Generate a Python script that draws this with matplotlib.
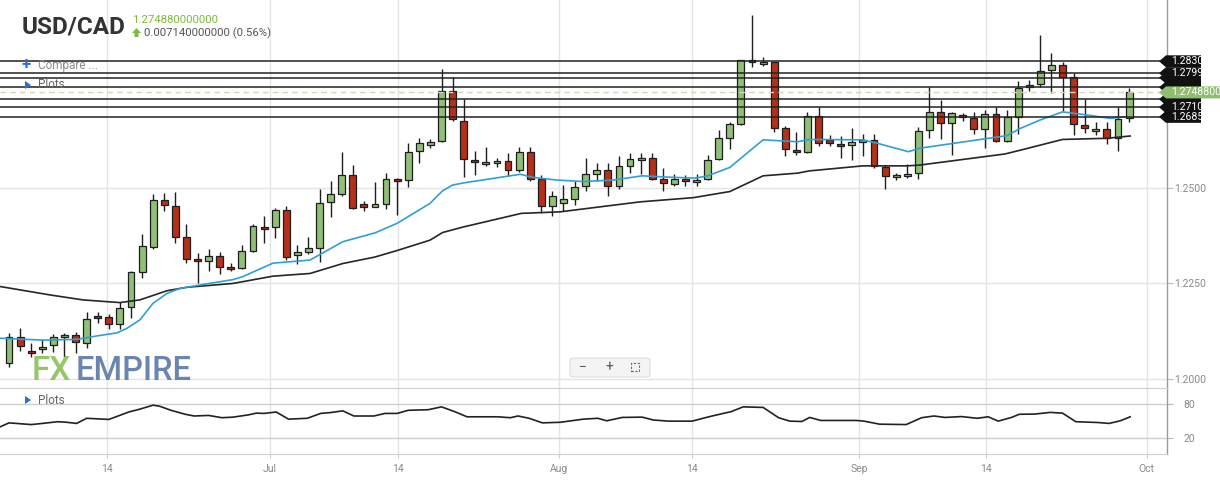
import matplotlib
matplotlib.use('Agg')
import matplotlib.pyplot as plt
import matplotlib.transforms as mtransforms
from matplotlib.patches import Polygon, FancyBboxPatch, Rectangle
import numpy as np

plt.rcParams['font.family'] = ['Roboto', 'DejaVu Sans']

# ---------------- data ----------------
opens = [1.2043, 1.2109, 1.2074, 1.2078, 1.2089, 1.2110, 1.2115, 1.2095, 1.2165, 1.2162,
         1.2143, 1.2188, 1.2279, 1.2346, 1.2467, 1.2451, 1.2371, 1.2314, 1.2308, 1.2322,
         1.2294, 1.2290, 1.2336, 1.2397, 1.2397, 1.2441, 1.2324, 1.2333, 1.2342, 1.2462,
         1.2484, 1.2532, 1.2457, 1.2450, 1.2458, 1.2523, 1.2519, 1.2596, 1.2611, 1.2622,
         1.2752, 1.2675, 1.2572, 1.2561, 1.2564, 1.2569, 1.2545, 1.2592, 1.2522, 1.2451,
         1.2459, 1.2470, 1.2504, 1.2535, 1.2545, 1.2504, 1.2556, 1.2572, 1.2577, 1.2522,
         1.2509, 1.2522, 1.2514, 1.2522, 1.2574, 1.2629, 1.2666, 1.2833, 1.2822, 1.2827,
         1.2655, 1.2598, 1.2592, 1.2686, 1.2624, 1.2613, 1.2611, 1.2619, 1.2624, 1.2553,
         1.2527, 1.2530, 1.2538, 1.2650, 1.2697, 1.2668, 1.2689, 1.2681, 1.2652, 1.2692,
         1.2621, 1.2684, 1.2762, 1.2770, 1.2807, 1.2820, 1.2788, 1.2663, 1.2647, 1.2652,
         1.2629, 1.2681]
highs = [1.2120, 1.2133, 1.2094, 1.2105, 1.2118, 1.2121, 1.2124, 1.2176, 1.2176, 1.2170,
         1.2202, 1.2283, 1.2379, 1.2484, 1.2485, 1.2488, 1.2404, 1.2329, 1.2341, 1.2331,
         1.2304, 1.2350, 1.2404, 1.2426, 1.2446, 1.2452, 1.2350, 1.2372, 1.2496, 1.2518,
         1.2592, 1.2558, 1.2466, 1.2514, 1.2539, 1.2525, 1.2616, 1.2629, 1.2626, 1.2810,
         1.2788, 1.2731, 1.2596, 1.2607, 1.2577, 1.2591, 1.2605, 1.2605, 1.2533, 1.2492,
         1.2506, 1.2517, 1.2578, 1.2564, 1.2564, 1.2582, 1.2590, 1.2590, 1.2590, 1.2551,
         1.2535, 1.2533, 1.2535, 1.2585, 1.2650, 1.2671, 1.2834, 1.2951, 1.2840, 1.2828,
         1.2660, 1.2645, 1.2697, 1.2711, 1.2637, 1.2634, 1.2656, 1.2639, 1.2639, 1.2558,
         1.2538, 1.2561, 1.2658, 1.2762, 1.2728, 1.2697, 1.2694, 1.2697, 1.2702, 1.2710,
         1.2702, 1.2778, 1.2780, 1.2898, 1.2851, 1.2827, 1.2799, 1.2731, 1.2671, 1.2671,
         1.2710, 1.2760]
lows = [1.2031, 1.2074, 1.2059, 1.2068, 1.2072, 1.2059, 1.2069, 1.2081, 1.2146, 1.2130,
        1.2130, 1.2159, 1.2263, 1.2339, 1.2440, 1.2355, 1.2303, 1.2252, 1.2283, 1.2275,
        1.2283, 1.2288, 1.2333, 1.2356, 1.2368, 1.2311, 1.2301, 1.2327, 1.2307, 1.2424,
        1.2479, 1.2444, 1.2440, 1.2449, 1.2444, 1.2429, 1.2503, 1.2564, 1.2604, 1.2620,
        1.2675, 1.2529, 1.2533, 1.2557, 1.2553, 1.2531, 1.2542, 1.2518, 1.2433, 1.2427,
        1.2440, 1.2455, 1.2491, 1.2517, 1.2478, 1.2496, 1.2539, 1.2535, 1.2520, 1.2491,
        1.2504, 1.2504, 1.2504, 1.2520, 1.2573, 1.2600, 1.2665, 1.2814, 1.2819, 1.2645,
        1.2583, 1.2585, 1.2590, 1.2608, 1.2608, 1.2577, 1.2572, 1.2583, 1.2551, 1.2496,
        1.2519, 1.2525, 1.2522, 1.2629, 1.2626, 1.2585, 1.2675, 1.2639, 1.2603, 1.2619,
        1.2620, 1.2639, 1.2752, 1.2764, 1.2746, 1.2699, 1.2637, 1.2642, 1.2637, 1.2613,
        1.2595, 1.2671]
closes = [1.2109, 1.2087, 1.2069, 1.2085, 1.2111, 1.2115, 1.2096, 1.2156, 1.2159, 1.2143,
          1.2185, 1.2279, 1.2347, 1.2467, 1.2454, 1.2371, 1.2313, 1.2308, 1.2322, 1.2292,
          1.2289, 1.2336, 1.2400, 1.2391, 1.2441, 1.2318, 1.2331, 1.2342, 1.2459, 1.2483,
          1.2532, 1.2446, 1.2450, 1.2457, 1.2523, 1.2517, 1.2592, 1.2616, 1.2619, 1.2752,
          1.2679, 1.2574, 1.2566, 1.2566, 1.2569, 1.2545, 1.2592, 1.2522, 1.2451, 1.2478,
          1.2470, 1.2501, 1.2535, 1.2545, 1.2504, 1.2556, 1.2574, 1.2578, 1.2523, 1.2511,
          1.2522, 1.2517, 1.2519, 1.2572, 1.2629, 1.2666, 1.2833, 1.2827, 1.2827, 1.2655,
          1.2600, 1.2592, 1.2686, 1.2616, 1.2616, 1.2608, 1.2619, 1.2624, 1.2556, 1.2530,
          1.2532, 1.2536, 1.2647, 1.2697, 1.2668, 1.2694, 1.2684, 1.2652, 1.2692, 1.2621,
          1.2685, 1.2761, 1.2767, 1.2804, 1.2820, 1.2788, 1.2666, 1.2655, 1.2652, 1.2629,
          1.2679, 1.27488]

# moving averages (read at points along the lines, x in bar units)
ma_fast_x = [-0.81, 3.07, 6.13, 7.94, 9.74, 10.64, 11.81, 12.98, 14.25, 15.42, 17.22, 20.2,
             21.1, 23.8, 27.14, 30.1, 33.0, 35.0, 37.96, 39.1, 40.0, 41.1, 46.1, 47.25, 49.4,
             51.8, 54.5, 57.1, 59.9, 61.9, 63.0, 65.0, 68.0, 71.1, 72.2, 77.0, 78.3, 81.1,
             82.1, 90.0, 91.2, 93.0, 95.0, 97.2, 99.3, 100.6]
ma_fast_y = [1.2107, 1.2102, 1.2104, 1.2113, 1.2121, 1.2133, 1.2155, 1.2198, 1.2224, 1.2237,
             1.2246, 1.2260, 1.2268, 1.2303, 1.2311, 1.2359, 1.2382, 1.2407, 1.2459, 1.2492,
             1.2507, 1.2513, 1.2535, 1.2527, 1.2520, 1.2516, 1.2520, 1.2531, 1.2527, 1.2525,
             1.2531, 1.2553, 1.2625, 1.2620, 1.2626, 1.2625, 1.2616, 1.2594, 1.2603, 1.2636,
             1.2655, 1.2677, 1.2698, 1.2690, 1.2681, 1.2685]
ma_slow_x = [-0.81, 3.7, 6.67, 10.0, 11.8, 14.25, 16.05, 20.2, 23.8, 27.14, 30.1, 33.0, 35.0,
             37.96, 39.1, 40.9, 46.2, 49.7, 53.3, 56.9, 61.7, 65.0, 68.0, 71.1, 72.2, 77.0,
             81.0, 82.1, 89.8, 91.2, 95.0, 99.0, 101.1]
ma_slow_y = [1.2242, 1.2220, 1.2207, 1.2200, 1.2207, 1.2231, 1.2240, 1.2250, 1.2269, 1.2276,
             1.2302, 1.2319, 1.2336, 1.2363, 1.2383, 1.2397, 1.2433, 1.2437, 1.2450, 1.2463,
             1.2474, 1.2490, 1.2531, 1.2538, 1.2544, 1.2557, 1.2557, 1.2559, 1.2588, 1.2598,
             1.2626, 1.2629, 1.2635]

# oscillator (lower pane)
osc_x = [-0.8, 0, 2, 3, 4.4, 5.2, 6.1, 7, 8, 9, 9.7, 10.8, 11.8, 13, 13.6, 14.6, 15.9, 16.7,
         18, 19.2, 20.2, 21.6, 22.3, 23, 24.1, 25.2, 26.9, 28.1, 29, 30.1, 31.1, 32.9, 33.9,
         35, 36, 37.8, 39, 40.2, 41.3, 44.1, 45.2, 45.9, 46.9, 48.1, 49.7, 51.8, 53.1, 53.9,
         55.3, 57.1, 58.1, 59.5, 61.6, 63.1, 64.4, 65.1, 66.2, 68, 69.4, 70.4, 71.5, 72.2,
         73.2, 76.4, 77.1, 78.5, 80.9, 82.3, 83.4, 84.4, 85.9, 87.3, 88.3, 89.2, 90.4, 91.1,
         92.5, 93.9, 95, 96.2, 98.2, 99.2, 100.2, 101.1]
osc_y = [40, 47, 44, 46, 49, 48, 46, 55, 54, 53, 58, 66, 71, 78, 76, 69, 62, 59,
         60, 56, 57, 61, 64, 63.5, 66, 53.5, 55, 63.5, 65, 68, 59, 59, 63.5,
         63.5, 69, 70, 75, 66.5, 57.6, 57.6, 56, 59, 55, 47, 48, 53.5, 55, 50.6,
         56.5, 57, 52, 50, 50, 57.6, 63.5, 66.5, 75, 74, 56, 50, 49.4, 56.5,
         51.2, 51.2, 50, 44.7, 44, 56, 59, 56.5, 58, 55, 57.6, 50, 56.5, 62,
         62.4, 65.3, 64, 49, 47.6, 46, 50.6, 57.6]

# horizontal levels: the first three have their tags hidden under the others
hidden_levels = [1.2787, 1.2762, 1.2731]
level_vals = [1.2830, 1.2799, 1.2710, 1.2685]
level_text = ['1.2830', '1.2799', '1.2710', '1.2685']
last_price = 1.27488
last_text = '1.2748800'

x_tick_pos = [8.8, 23.5, 35.05, 49.57, 61.6, 76.65, 88.1, 102.6]
x_tick_lab = ['14', 'Jul', '14', 'Aug', '14', 'Sep', '14', 'Oct']
y_tick_pos = [1.2000, 1.2250, 1.2500]
osc_ticks = [20, 80]

# ---------------- layout ----------------
W, H = 1220, 483
fig = plt.figure(figsize=(W / 100, H / 100), dpi=100)
fig.patch.set_facecolor('white')


def fx(x):
    return x / W


def fy(y):
    return 1 - y / H


AX_R = 1167
ax = fig.add_axes([0, fy(388), fx(AX_R), (388 - 0) / H])
ax2 = fig.add_axes([0, fy(454), fx(AX_R), (454 - 388) / H])

XL = (-0.8115, 104.42)
for a in (ax, ax2):
    a.set_xlim(*XL)
    a.set_facecolor('white')
    for s in ('top', 'left', 'bottom'):
        a.spines[s].set_visible(False)
    a.spines['right'].set_color('#9a9a9a')
    a.spines['right'].set_linewidth(1.0)
    a.set_xticks(x_tick_pos)
    a.grid(True, axis='x', color='#e4e4e4', lw=1.0)

ax.set_ylim(1.19770, 1.29901)
ax2.set_ylim(-7.5, 108)

# main pane grid
ax.set_yticks(y_tick_pos)
ax.set_yticklabels([f'{v:.4f}' for v in y_tick_pos])
ax.yaxis.tick_right()
ax.tick_params(axis='y', length=4, width=0.8, color='#bbbbbb', labelsize=7.5,
               labelcolor='#8a8a8a', pad=1)
ax.tick_params(axis='x', length=0, labelbottom=False)
ax.grid(True, axis='y', color='#e4e4e4', lw=1.0)
ax.set_axisbelow(True)

# candles
idx = np.arange(len(opens))
o = np.array(opens); c = np.array(closes); h = np.array(highs); l = np.array(lows)
up = c >= o
ax.vlines(idx, l, h, color='#1e1e1e', lw=1.0, zorder=3)
body_bottom = np.minimum(o, c)
body_h = np.maximum(np.abs(c - o), 0.00045)
cols = np.where(up, '#90bf78', '#b3301a')
ax.bar(idx, body_h, bottom=body_bottom, width=0.62, color=cols, edgecolor='#1e1e1e',
       linewidth=0.9, zorder=4)

# moving averages
ax.plot(ma_slow_x, ma_slow_y, color='#262626', lw=1.2, zorder=5)
ax.plot(ma_fast_x, ma_fast_y, color='#2f9fd6', lw=1.2, zorder=5)

# horizontal levels
for v in hidden_levels + level_vals:
    ax.axhline(v, color='#222222', lw=1.1, zorder=6)
ax.axhline(last_price, color='#d9d3bf', lw=1.0, ls=(0, (4, 3)), zorder=6)

# price tags
tr = mtransforms.blended_transform_factory(fig.transFigure, ax.transData)
hh = 6.0 / 3830
zcount = [10]


def tag(v, text, color, right):
    z = zcount[0]
    zcount[0] += 2
    pts = [(fx(1159), v), (fx(1166), v + hh), (fx(right), v + hh), (fx(right), v - hh),
           (fx(1166), v - hh)]
    p = Polygon(pts, closed=True, transform=tr, facecolor=color, edgecolor='none',
                clip_on=False, zorder=z)
    fig.patches.append(p)
    if text:
        t = fig.text(fx(1171), v, text, transform=tr, color='white', fontsize=7.6,
                     va='center', ha='left', zorder=z + 1)
        t.set_clip_on(False)


for v in hidden_levels:
    tag(v, '', '#111111', 1201)
tag(level_vals[0], level_text[0], '#111111', 1201)
tag(level_vals[1], level_text[1], '#111111', 1201)
tag(last_price, last_text, '#8fbf6e', 1222)
tag(level_vals[2], level_text[2], '#111111', 1201)
tag(level_vals[3], level_text[3], '#111111', 1201)

# lower pane
ax2.plot(osc_x, osc_y, color='#222222', lw=1.2, zorder=4)
ax2.set_yticks(osc_ticks)
ax2.set_yticklabels([str(t) for t in osc_ticks])
ax2.yaxis.tick_right()
ax2.tick_params(axis='y', length=4, width=0.8, color='#bbbbbb', labelsize=7.5,
                labelcolor='#8a8a8a', pad=8)
ax2.grid(True, axis='y', color='#cfcfcf', lw=1.0)
ax2.set_xticklabels(x_tick_lab)
ax2.tick_params(axis='x', length=3, color='#cccccc', labelsize=7.5, labelcolor='#8a8a8a',
                pad=4)
ax2.spines['top'].set_visible(True)
ax2.spines['top'].set_color('#d0d0d0')
ax2.spines['bottom'].set_visible(True)
ax2.spines['bottom'].set_color('#d0d0d0')

# ---------------- header / decorations ----------------
fig.text(fx(22), fy(27), 'USD/CAD', fontsize=17.5, fontweight='bold', color='#333333',
         va='center', ha='left')
fig.text(fx(132), fy(20), '1.274880000000', fontsize=8.2, color='#7cbc3c', va='center',
         ha='left')
arrow = Polygon([(fx(132), fy(33)), (fx(136.5), fy(28)), (fx(141), fy(33)),
                 (fx(138.5), fy(33)), (fx(138.5), fy(37)), (fx(134.5), fy(37)),
                 (fx(134.5), fy(33))], closed=True, transform=fig.transFigure,
                facecolor='#7cbc3c', edgecolor='none')
fig.patches.append(arrow)
fig.text(fx(144), fy(33), '0.007140000000 (0.56%)', fontsize=8.2, color='#555555',
         va='center', ha='left')

fig.text(fx(22), fy(65), '+', fontsize=12, fontweight='bold', color='#2a6fd0', va='center',
         ha='left')
fig.text(fx(38), fy(65.5), 'Compare ...', fontsize=8.5, color='#8c8c8c', va='center',
         ha='left')
for yy in (85, 400):
    tri = Polygon([(fx(25), fy(yy - 4)), (fx(31), fy(yy)), (fx(25), fy(yy + 4))],
                  closed=True, transform=fig.transFigure, facecolor='#2a6fd0',
                  edgecolor='none', zorder=12)
    fig.patches.append(tri)
    fig.text(fx(38), fy(yy), 'Plots', fontsize=8.5, color='#666666', va='center',
             ha='left', zorder=12)

# logo
fig.text(fx(32), fy(371), 'FX', fontsize=24, fontweight='medium', color='#8cbf5c',
         va='center', ha='left', alpha=0.9)
fig.text(fx(76), fy(371), 'EMPIRE', fontsize=23.5, fontweight='medium', color='#5a79a6',
         va='center', ha='left', alpha=0.9)

# zoom buttons
box = FancyBboxPatch((fx(570), fy(377)), fx(80), 19 / H,
                     boxstyle='round,pad=0,rounding_size=0.004',
                     transform=fig.transFigure, facecolor='#f4f4f4',
                     edgecolor='#dddddd', lw=0.8)
fig.patches.append(box)
fig.text(fx(583), fy(367), '\u2212', fontsize=10, color='#555555', va='center', ha='center')
fig.text(fx(609), fy(367), '+', fontsize=10, color='#555555', va='center', ha='center')
sq = Rectangle((fx(631), fy(371)), fx(8), 8 / H, transform=fig.transFigure,
               facecolor='none', edgecolor='#666666', lw=0.8, ls=(0, (2, 1.5)))
fig.patches.append(sq)

fig.savefig('out.png', dpi=100, facecolor='white')
